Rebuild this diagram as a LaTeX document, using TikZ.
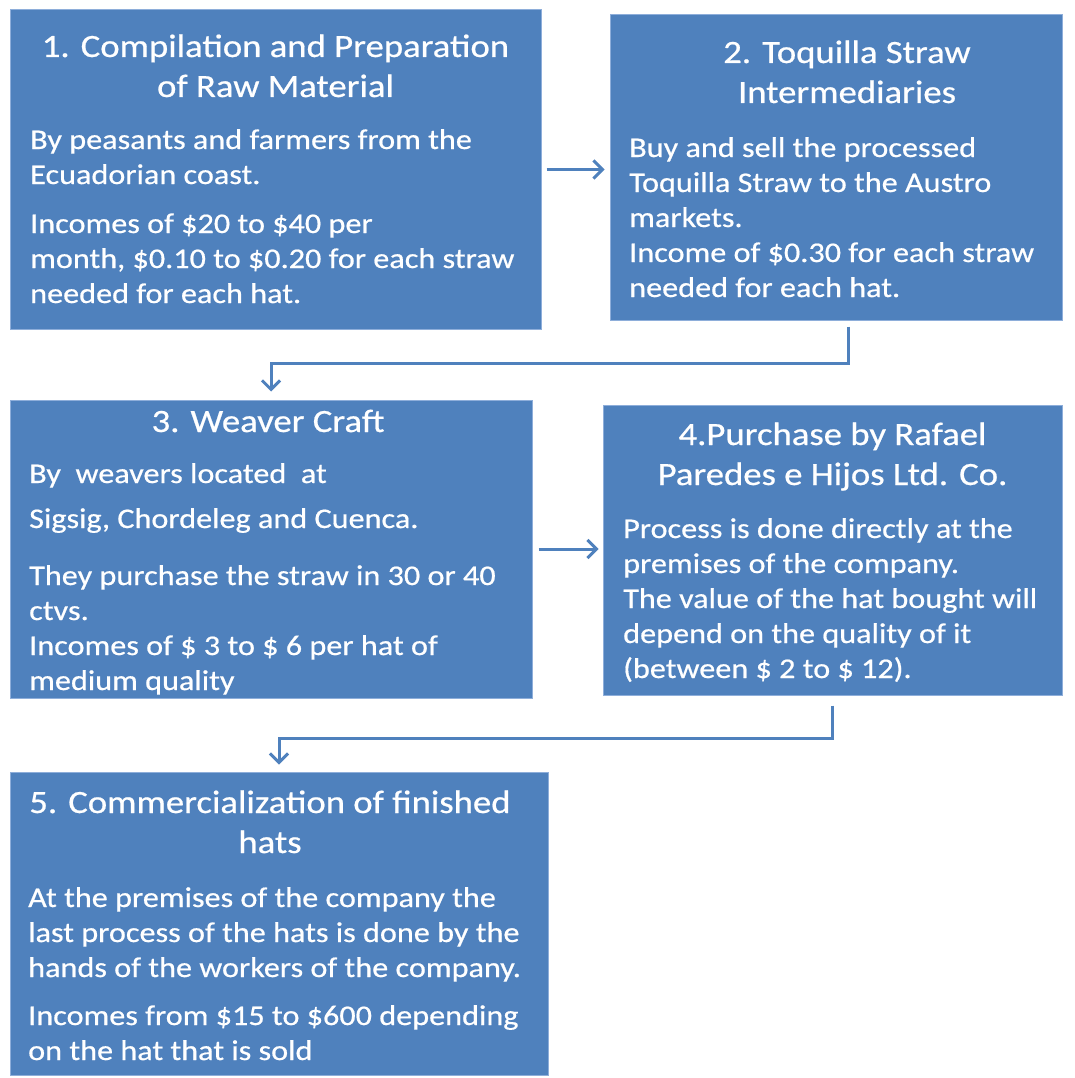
\documentclass[tikz,border=0pt]{standalone}
\usepackage{fontspec}
\setmainfont{Carlito}[FakeStretch=1.13, FakeBold=0.6]
\usetikzlibrary{arrows.meta,calc}
\definecolor{boxblue}{HTML}{4F81BD}
\definecolor{edgeblue}{HTML}{8EAEDA}
\tikzset{
	stage/.style={rectangle, fill=boxblue, draw=edgeblue, line width=1pt, inner sep=0pt},
	heading/.style={text=white, font=\fontsize{32.5}{40}\selectfont, align=center, anchor=base, inner sep=0pt},
	detail/.style={text=white, font=\fontsize{28.5}{35}\selectfont, align=left, anchor=base west, inner sep=0pt},
	flow/.style={draw=boxblue, line width=3pt, -{Straight Barb[length=9pt,width=18pt,line width=3pt]}}
}

\begin{document}
\begin{tikzpicture}[x=1pt, y=-1pt]
			%%%%% START %%%%%
			
			\useasboundingbox[fill=white] (0, 0) rectangle (1074, 1078);
			
			\node[stage, minimum width=531pt, minimum height=319pt] (b1) at (275.5, 169.5) {};
			\node[stage, minimum width=452pt, minimum height=305pt] (b2) at (836, 167.5) {};
			\node[stage, minimum width=522pt, minimum height=298pt] (b3) at (271, 549) {};
			\node[stage, minimum width=459pt, minimum height=290pt] (b4) at (832.5, 550) {};
			\node[stage, minimum width=538pt, minimum height=303pt] (b5) at (279, 923.5) {};
			
			% multi-line nodes sit on the baseline of their last line
			\node[heading] (h1) at (275.5, 97) {1. Compilation and Preparation\\of Raw Material};
			\node[detail] (d1) at (30, 303) {By peasants and farmers from the\\Ecuadorian coast.\\[14pt]Incomes of \$20 to \$40 per\\month, \$0.10 to \$0.20 for each straw\\needed for each hat.};
			
			\node[heading] (h2) at (847, 103) {2. Toquilla Straw\\Intermediaries};
			\node[detail] (d2) at (629, 297) {Buy and sell the processed\\Toquilla Straw to the Austro\\markets.\\Income of \$0.30 for each straw\\needed for each hat.};
			
			\node[heading] (h3) at (268, 432) {3. Weaver Craft};
			\node[detail] (d3) at (29, 690) {By~ weavers located~ at\\[10pt]Sigsig, Chordeleg and Cuenca.\\[22pt]They purchase the straw in 30 or 40\\ctvs.\\Incomes of \$ 3 to \$ 6 per hat of\\medium quality};
			
			\node[heading] (h4) at (832.5, 485) {4.Purchase by Rafael\\Paredes e Hijos Ltd. Co.};
			\node[detail] (d4) at (623, 678) {Process is done directly at the\\premises of the company.\\The value of the hat bought will\\depend on the quality of it\\(between \$ 2 to \$ 12).};
			
			\node[heading] (h5) at (270, 853) {5. Commercialization of finished\\hats};
			\node[detail] (d5) at (28, 1060) {At the premises of the company the\\last process of the hats is done by the\\hands of the workers of the company.\\[13pt]Incomes from \$15 to \$600 depending\\on the hat that is sold};
			
			\draw[flow, shorten >=10pt] ([xshift=5pt]b1.east) -- ([xshift=5pt]b1.east -| b2.west);
			\draw[flow, shorten >=8pt] ([xshift=12pt, yshift=-6pt]b2.south) -- ++(0, 37) -| (b3.north);
			\draw[flow, shorten >=10pt] ([xshift=6pt]b3.east) -- ([xshift=6pt]b3.east -| b4.west);
			\draw[flow, shorten >=7pt] ([yshift=-10pt]b4.south) -- ++(0, 33) -| (b5.north);
			
			%%%%% END %%%%%
\end{tikzpicture}
\end{document}
